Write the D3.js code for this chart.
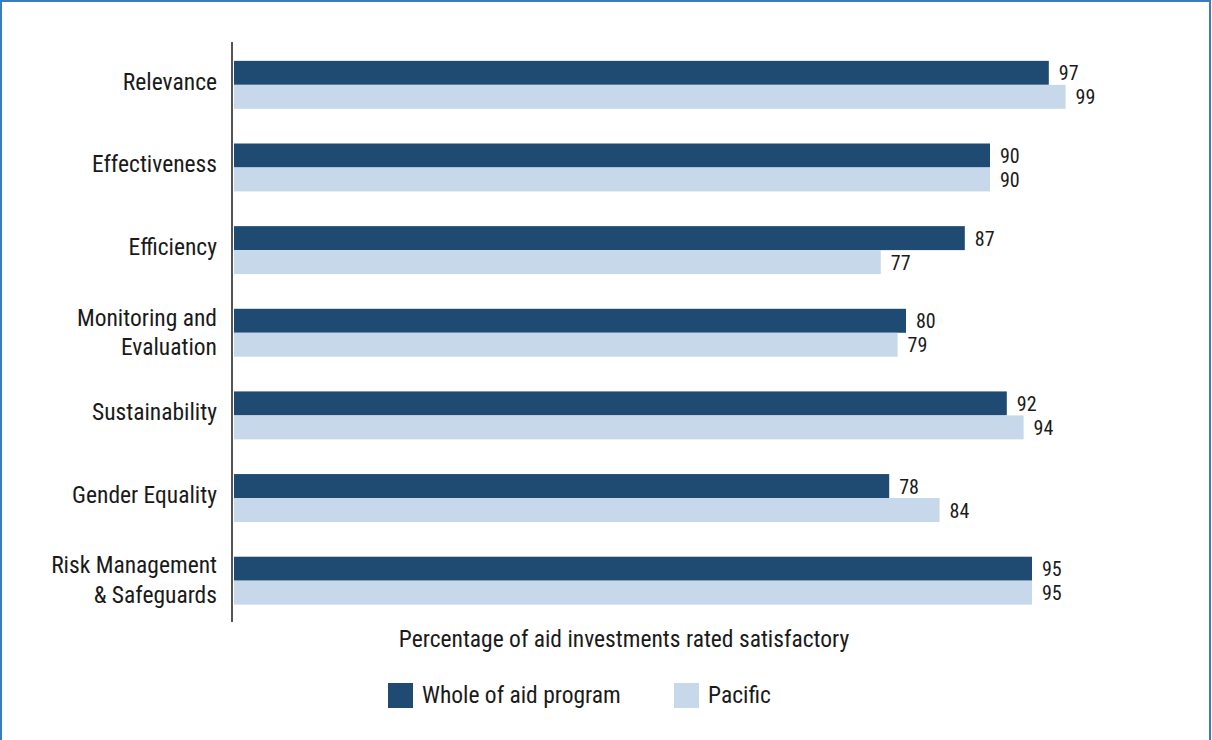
<!DOCTYPE html>
<html><head><meta charset="utf-8">
<script src="https://cdn.jsdelivr.net/npm/d3@7"></script>
<style>
html,body{margin:0;padding:0;background:#fff;}
svg text{font-family:"Liberation Sans Narrow","Arial Narrow","Roboto Condensed","Liberation Sans",sans-serif;fill:#1a1a1a;}
</style></head>
<body><svg id="c" width="1212" height="740"></svg>
<script>
const categories = ["Relevance","Effectiveness","Efficiency","Monitoring and Evaluation","Sustainability","Gender Equality","Risk Management & Safeguards"];
const categoryLines = [["Relevance"],["Effectiveness"],["Efficiency"],["Monitoring and","Evaluation"],["Sustainability"],["Gender Equality"],["Risk Management","& Safeguards"]];
const seriesNames = ["Whole of aid program","Pacific"];
const wholeOfAid = [97,90,87,80,92,78,95];
const pacific = [99,90,77,79,94,84,95];
const colors = ["#1f4a72","#c6d8ea"];
const axisTitle = "Percentage of aid investments rated satisfactory";

const svg = d3.select("#c");
// frame
svg.append("rect").attr("x",1).attr("y",1).attr("width",1209).attr("height",800)
  .attr("fill","none").attr("stroke","#3a7dbf").attr("stroke-width",2);

const x = d3.scaleLinear().domain([0,100]).range([234,1074]);
const y = d3.scaleBand().domain(categories).range([43.5,622]).paddingInner(0.42).paddingOuter(0.21);
const sub = d3.scaleBand().domain(seriesNames).range([0,y.bandwidth()]);

const data = categories.map((c,i)=>({c, vals:[wholeOfAid[i],pacific[i]], lines:categoryLines[i]}));

const g = svg.append("g");
data.forEach(d=>{
  d.vals.forEach((v,j)=>{
    const yy = y(d.c)+sub(seriesNames[j]);
    g.append("rect").attr("x",x(0)).attr("y",yy).attr("width",x(v)-x(0)).attr("height",sub.bandwidth())
      .attr("fill",colors[j]);
    g.append("text").attr("x",x(v)+10).attr("y",yy+sub.bandwidth()/2+7.5)
      .attr("font-size",20).text(v);
  });
  const cy = y(d.c)+y.bandwidth()/2;
  const n = d.lines.length;
  d.lines.forEach((t,k)=>{
    const yy = n===1 ? cy+5 : cy+7.5+(k-(n-1)/2)*29.5;
    g.append("text").attr("x",217).attr("y",yy)
      .attr("text-anchor","end").attr("font-size",23.5).text(t);
  });
});

// axis line
svg.append("line").attr("x1",232).attr("x2",232).attr("y1",42).attr("y2",622)
  .attr("stroke","#555").attr("stroke-width",2);

svg.append("text").attr("x",624).attr("y",647).attr("text-anchor","middle")
  .attr("font-size",23.5).text(axisTitle);

// legend
const legX = [388,674];
seriesNames.forEach((s,j)=>{
  svg.append("rect").attr("x",legX[j]).attr("y",683).attr("width",25).attr("height",25).attr("fill",colors[j]);
  svg.append("text").attr("x",legX[j]+34).attr("y",703).attr("font-size",23.5).text(s);
});
</script></body></html>
